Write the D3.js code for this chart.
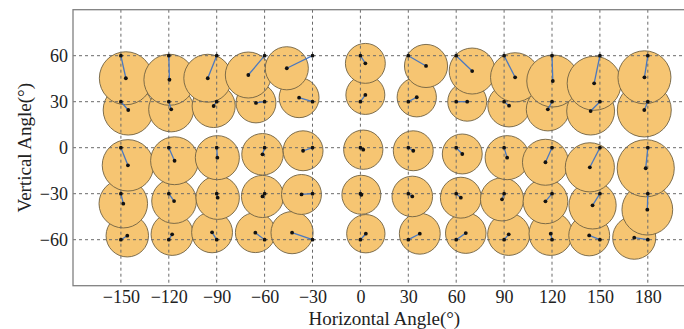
<!DOCTYPE html>
<html>
<head>
<meta charset="utf-8">
<script src="https://cdn.jsdelivr.net/npm/d3@7"></script>
<style>
  body { margin: 0; background: #fff; }
  svg { display: block; }
  text { font-family: "Liberation Serif", "Times New Roman", serif; fill: #222; }
</style>
</head>
<body>
<div id="chart"></div>
<script>
// target angles (deg)
const hAngles = [-150, -120, -90, -60, -30, 0, 30, 60, 90, 120, 150, 180];
const vAngles = [-60, -30, 0, 30, 60];

// perceived horizontal angle, one row per vertical angle (-60 .. 60)
const measuredH = [
  [-146.0, -117.9, -92.9, -65.8, -42.8, 3.4, 37.2, 66.0, 92.9, 119.2, 143.3, 171.5],
  [-148.5, -116.7, -89.4, -61.3, -36.9, 0.6, 32.5, 62.9, 88.7, 115.9, 145.4, 179.7],
  [-145.6, -116.4, -89.6, -61.3, -35.9, 1.8, 33.1, 63.8, 91.9, 115.9, 143.7, 178.7],
  [-145.4, -118.5, -91.9, -65.4, -38.4, 3.1, 35.3, 66.9, 93.1, 117.4, 144.2, 177.8],
  [-146.9, -119.6, -95.6, -70.2, -46.1, 3.1, 41.1, 70.0, 96.9, 120.5, 146.4, 177.9]
];

// perceived vertical angle
const measuredV = [
  [-57.4, -56.5, -55.2, -55.4, -55.4, -56.1, -56.1, -55.7, -56.5, -56.1, -57.2, -58.7],
  [-36.5, -34.8, -32.6, -31.8, -30.5, -30.7, -31.8, -32.6, -33.7, -35.0, -37.6, -40.4],
  [-11.5, -8.5, -6.5, -4.3, -2.0, -1.3, -2.0, -4.1, -6.5, -9.5, -12.8, -13.4],
  [24.6, 25.0, 27.2, 29.2, 32.6, 34.4, 32.9, 30.0, 27.4, 25.0, 23.9, 24.6],
  [45.3, 44.3, 45.3, 47.4, 51.8, 55.0, 53.3, 50.0, 45.9, 43.5, 42.0, 45.9]
];

// spread of responses (deg)
const spread = [
  [13.3, 13.2, 12.8, 12.5, 13.2, 12.0, 12.8, 12.7, 13.2, 13.6, 12.8, 13.5],
  [15.2, 14.0, 13.6, 13.2, 12.5, 12.2, 12.7, 12.8, 13.5, 14.0, 14.8, 15.9],
  [16.1, 15.0, 13.8, 13.0, 12.5, 12.3, 12.5, 12.5, 13.8, 14.4, 15.4, 17.9],
  [15.7, 14.1, 13.5, 12.5, 12.5, 12.2, 12.3, 12.2, 13.3, 13.5, 15.0, 16.9],
  [16.6, 16.0, 15.0, 14.4, 13.5, 12.5, 13.5, 14.4, 15.4, 16.3, 16.9, 16.6]
];

const width = 684;
const height = 329;

const x = d3.scaleLinear().domain([-180, 210]).range([73, 695.7]);
const y = d3.scaleLinear().domain([-90, 90]).range([285.7, 9.7]);
const rScale = d3.scaleLinear().domain([0, 1]).range([0, x(1) - x(0)]);

const points = [];
vAngles.forEach((v, i) => {
  hAngles.forEach((h, j) => {
    points.push({h, v, mh: measuredH[i][j], mv: measuredV[i][j], s: spread[i][j]});
  });
});

const svg = d3.select('#chart').append('svg')
  .attr('width', width)
  .attr('height', height);

// circles, lower rows first so the upper rows sit on top
svg.append('g')
  .classed('spread', true)
  .selectAll('circle')
  .data(points)
  .enter()
  .append('circle')
  .attr('cx', d => x(d.mh))
  .attr('cy', d => y(d.mv))
  .attr('r', d => rScale(d.s))
  .style('fill', '#f6c572')
  .style('stroke', '#6f6142')
  .style('stroke-width', 0.9);

// dashed grid drawn over the circles
const plotTop = y(90), plotBottom = y(-90);
const grid = svg.append('g').classed('grid', true)
  .style('stroke', '#6a6a6a')
  .style('stroke-width', 1)
  .style('stroke-dasharray', '3,3');
grid.selectAll('.vx')
  .data(hAngles)
  .enter()
  .append('line')
  .attr('x1', d => x(d)).attr('x2', d => x(d))
  .attr('y1', plotTop).attr('y2', plotBottom);
grid.selectAll('.hy')
  .data(vAngles)
  .enter()
  .append('line')
  .attr('x1', x(-180)).attr('x2', x(210))
  .attr('y1', d => y(d)).attr('y2', d => y(d));

// error lines and dots
const marks = svg.append('g').classed('marks', true);
marks.selectAll('line')
  .data(points)
  .enter()
  .append('line')
  .attr('x1', d => x(d.h)).attr('y1', d => y(d.v))
  .attr('x2', d => x(d.mh)).attr('y2', d => y(d.mv))
  .style('stroke', '#4a78c0')
  .style('stroke-width', 1.3);
marks.selectAll('.target')
  .data(points)
  .enter()
  .append('circle')
  .attr('cx', d => x(d.h)).attr('cy', d => y(d.v))
  .attr('r', 1.9)
  .style('fill', '#111');
marks.selectAll('.resp')
  .data(points)
  .enter()
  .append('circle')
  .attr('cx', d => x(d.mh)).attr('cy', d => y(d.mv))
  .attr('r', 1.9)
  .style('fill', '#111');

// frame
svg.append('rect')
  .attr('x', x(-180))
  .attr('y', plotTop)
  .attr('width', x(210) - x(-180))
  .attr('height', plotBottom - plotTop)
  .style('fill', 'none')
  .style('stroke', '#808080')
  .style('stroke-width', 1.3);

// axes
const xAxis = d3.axisBottom(x).tickValues(hAngles).tickSize(0).tickPadding(5);
svg.append('g')
  .classed('x axis', true)
  .attr('transform', `translate(0,${plotBottom})`)
  .call(xAxis)
  .call(g => g.select('.domain').remove())
  .selectAll('text')
  .style('font-family', '"Liberation Serif", serif')
  .style('font-size', '18px')
  .style('fill', '#222');

const yAxis = d3.axisLeft(y).tickValues(vAngles).tickSize(0).tickPadding(5);
svg.append('g')
  .classed('y axis', true)
  .attr('transform', `translate(${x(-180)},0)`)
  .call(yAxis)
  .call(g => g.select('.domain').remove())
  .selectAll('text')
  .style('font-family', '"Liberation Serif", serif')
  .style('font-size', '18px')
  .style('fill', '#222');

svg.append('text')
  .attr('x', (x(-180) + x(210)) / 2)
  .attr('y', 325)
  .attr('text-anchor', 'middle')
  .style('font-size', '19px')
  .text('Horizontal Angle(°)');

svg.append('text')
  .attr('transform', `translate(31,${(plotTop + plotBottom) / 2}) rotate(-90)`)
  .attr('text-anchor', 'middle')
  .style('font-size', '19px')
  .text('Vertical Angle(°)');
</script>
</body>
</html>
